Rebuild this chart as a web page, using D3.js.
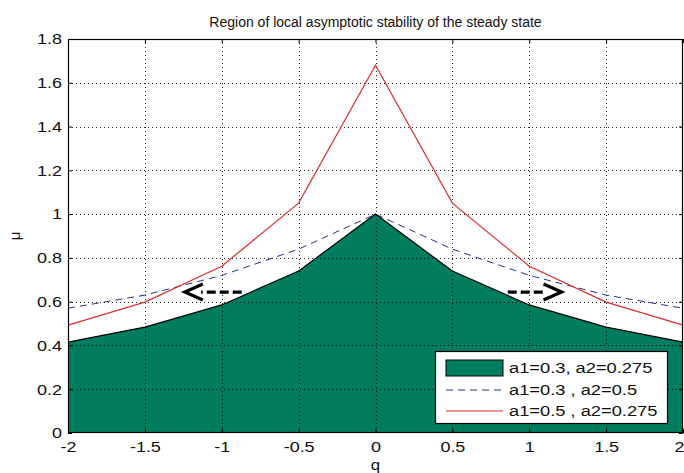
<!DOCTYPE html>
<html><head><meta charset="utf-8">
<script src="https://cdn.jsdelivr.net/npm/d3@7"></script>
<style>body{margin:0;background:#fff}svg{display:block;font-family:"Liberation Sans",Arial,sans-serif}</style>
</head><body><svg id="c" width="684" height="473"></svg>
<script>
const qValues = [-2, -1.5, -1, -0.5, 0, 0.5, 1, 1.5, 2];
const areaSeries = [0.415, 0.484, 0.585, 0.74, 1.0, 0.74, 0.585, 0.484, 0.415];   // a1=0.3, a2=0.275
const blueSeries = [0.57, 0.63, 0.72, 0.84, 1.0, 0.84, 0.72, 0.63, 0.57];          // a1=0.3, a2=0.5
const redSeries  = [0.493, 0.598, 0.762, 1.05, 1.68, 1.05, 0.762, 0.598, 0.493];   // a1=0.5, a2=0.275
const xTicks = [-2, -1.5, -1, -0.5, 0, 0.5, 1, 1.5, 2];
const yTicks = [0, 0.2, 0.4, 0.6, 0.8, 1, 1.2, 1.4, 1.6, 1.8];
const legendLabels = ["a1=0.3, a2=0.275", "a1=0.3 , a2=0.5", "a1=0.5 , a2=0.275"];
const arrowsData = [{from: -0.87, to: -1.24, y: 0.644}, {from: 0.86, to: 1.21, y: 0.644}];
const titleText = "Region of local asymptotic stability of the steady state";

const W = 684, H = 473;
const m = {left: 68, right: 1, top: 39, bottom: 40};
const iw = W - m.left - m.right, ih = H - m.top - m.bottom;
const svg = d3.select("#c");
const g = svg.append("g").attr("transform", `translate(${m.left},${m.top})`);
const x = d3.scaleLinear().domain([-2, 2]).range([0, iw]);
const y = d3.scaleLinear().domain([0, 1.8]).range([ih, 0]);

const GREEN = "#007c5e", BLUE = "#25318a", RED = "#d93030";
const SX = 1.2; // horizontal stretch of the reference's bitmap font
const pts = qValues.map((q, i) => ({q, a: areaSeries[i], b: blueSeries[i], r: redSeries[i]}));

// area
g.append("path").datum(pts)
  .attr("d", d3.area().x(d => x(d.q)).y0(y(0)).y1(d => y(d.a)))
  .attr("fill", GREEN).attr("stroke", "none");
g.append("path").datum(pts)
  .attr("d", d3.line().x(d => x(d.q)).y(d => y(d.a)))
  .attr("fill", "none").attr("stroke", "#000").attr("stroke-width", 1.2);

// grid
const grid = g.append("g").attr("stroke", "#000").attr("stroke-width", 1).attr("stroke-dasharray", "1,3").attr("opacity", 0.85);
xTicks.slice(1, -1).forEach(t => grid.append("line").attr("x1", Math.round(x(t)) + 0.5).attr("x2", Math.round(x(t)) + 0.5).attr("y1", 0).attr("y2", ih));
yTicks.slice(1, -1).forEach(t => grid.append("line").attr("y1", Math.round(y(t)) + 0.5).attr("y2", Math.round(y(t)) + 0.5).attr("x1", 0).attr("x2", iw));

// lines
g.append("path").datum(pts)
  .attr("d", d3.line().x(d => x(d.q)).y(d => y(d.b)))
  .attr("fill", "none").attr("stroke", BLUE).attr("stroke-width", 1).attr("stroke-dasharray", "7,5");
g.append("path").datum(pts)
  .attr("d", d3.line().x(d => x(d.q)).y(d => y(d.r)))
  .attr("fill", "none").attr("stroke", RED).attr("stroke-width", 1.2);

// arrows
arrowsData.forEach(a => {
  const x0 = x(a.from), x1 = x(a.to), yy = y(a.y);
  const dir = Math.sign(x1 - x0);
  const headLen = 18, half = 8;
  g.append("line").attr("x1", x0).attr("x2", x1 - dir * headLen * 0.9).attr("y1", yy).attr("y2", yy)
    .attr("stroke", "#000").attr("stroke-width", 3.2).attr("stroke-dasharray", "9,4");
  g.append("path").attr("d", `M${x1 - dir * headLen},${yy - half}L${x1},${yy}L${x1 - dir * headLen},${yy + half}`)
    .attr("fill", "none").attr("stroke", "#000").attr("stroke-width", 3.2).attr("stroke-linejoin", "miter");
});

// axes
const fmt = d => String(d);
const xa = g.append("g").attr("transform", `translate(0,${ih})`)
  .call(d3.axisBottom(x).tickValues(xTicks).tickFormat(fmt).tickSizeInner(-4).tickSizeOuter(0).tickPadding(8));
const xt = g.append("g").call(d3.axisTop(x).tickValues(xTicks).tickFormat("").tickSizeInner(-4).tickSizeOuter(0));
const ya = g.append("g")
  .call(d3.axisLeft(y).tickValues(yTicks).tickFormat(fmt).tickSizeInner(-4).tickSizeOuter(0).tickPadding(6));
const yr = g.append("g").attr("transform", `translate(${iw},0)`)
  .call(d3.axisRight(y).tickValues(yTicks).tickFormat("").tickSizeInner(-4).tickSizeOuter(0));
[xa, xt, ya, yr].forEach(a => { a.select(".domain").remove(); a.selectAll("line").attr("stroke", "#000"); a.selectAll("text").attr("font-size", 15).attr("fill", "#111").attr("font-family", "Liberation Sans, Arial, sans-serif"); });
xa.selectAll("text").attr("transform", `scale(${SX},1)`);
ya.selectAll("text").each(function() {
  const t = d3.select(this); const tx = +t.attr("x");
  t.attr("transform", `translate(${tx},0) scale(${SX},1) translate(${-tx},0)`);
});
// keep the last x label inside the window
xa.selectAll(".tick").filter(d => d === 2).select("text").attr("text-anchor", "end").attr("x", 1 / SX);

g.append("rect").attr("x", 0.5).attr("y", 0.5).attr("width", iw - 1).attr("height", ih - 1)
  .attr("fill", "none").attr("stroke", "#000").attr("stroke-width", 1.2);

// labels
svg.append("text").attr("x", m.left + iw / 2).attr("y", 27).attr("text-anchor", "middle").attr("font-size", 14).attr("fill", "#111").text(titleText);
svg.append("text").attr("transform", `translate(${m.left + x(0)},470) scale(${SX},1)`).attr("text-anchor", "middle").attr("font-size", 14).attr("fill", "#111").text("q");
svg.append("text").attr("transform", `translate(20,${m.top + ih / 2}) rotate(-90)`).attr("text-anchor", "middle").attr("font-size", 15).attr("fill", "#111").text("μ");

// legend
const lg = svg.append("g");
lg.append("rect").attr("x", 435.5).attr("y", 351.5).attr("width", 232).attr("height", 72).attr("fill", "#fff").attr("stroke", "#000").attr("stroke-width", 1.2);
const rowY = [368, 390, 411];
lg.append("rect").attr("x", 446).attr("y", rowY[0] - 8).attr("width", 57).attr("height", 16).attr("fill", GREEN).attr("stroke", "#000").attr("stroke-width", 1);
lg.append("line").attr("x1", 446).attr("x2", 503).attr("y1", rowY[1]).attr("y2", rowY[1]).attr("stroke", BLUE).attr("stroke-dasharray", "7,5");
lg.append("line").attr("x1", 446).attr("x2", 503).attr("y1", rowY[2]).attr("y2", rowY[2]).attr("stroke", RED).attr("stroke-width", 1.2);
legendLabels.forEach((t, i) => lg.append("text").attr("transform", `translate(509,${rowY[i]}) scale(1.22,1)`).attr("dy", "0.35em").attr("font-size", 15).attr("fill", "#111").text(t));
</script></body></html>
